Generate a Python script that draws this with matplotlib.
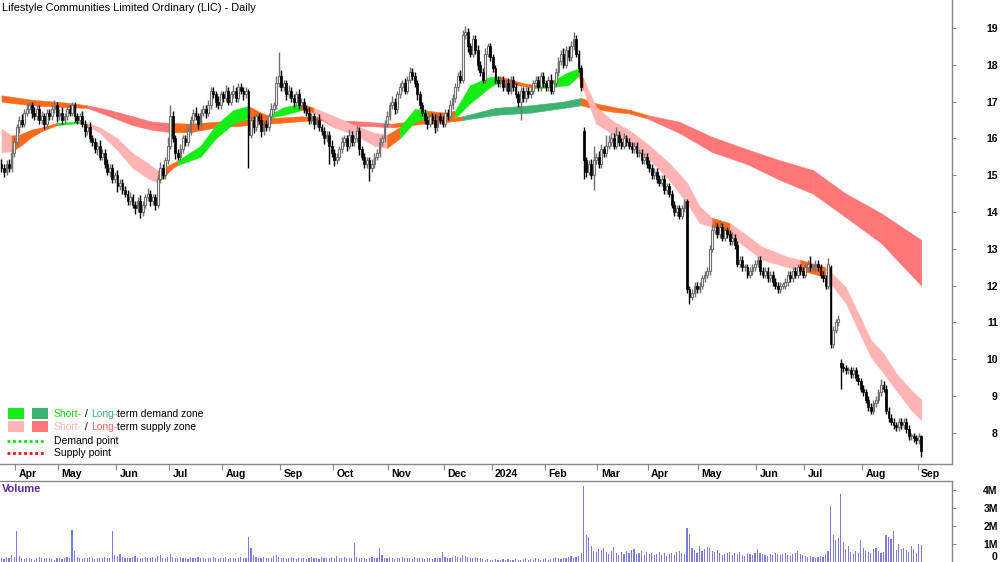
import numpy as np
import pandas as pd
import matplotlib
matplotlib.use("Agg")
import matplotlib.pyplot as plt
from matplotlib.transforms import blended_transform_factory
from matplotlib.patches import Rectangle

# ---------------- data ----------------
start_date = "2023-03-24"
end_date = "2024-09-03"
holidays = ["2023-04-07", "2023-04-10", "2023-04-25", "2023-06-12", "2023-12-25",
            "2023-12-26", "2024-01-01", "2024-01-26", "2024-03-29", "2024-04-01",
            "2024-04-25", "2024-06-10"]

closes = [15.2,15.1,15.3,15.2,15.6,15.9,16.3,16.5,16.4,16.7,
16.8,16.9,16.7,16.6,16.8,16.5,16.6,16.4,16.7,16.6,
16.8,16.9,16.6,16.7,16.5,16.6,16.8,16.7,16.9,16.6,
16.5,16.6,16.4,16.2,16.3,16.0,15.9,15.7,15.8,15.5,
15.6,15.3,15.1,15.2,14.9,15.0,14.7,14.8,14.6,14.5,
14.3,14.4,14.2,14.1,14.3,14.0,14.2,14.4,14.5,14.3,
14.4,14.2,14.9,15.2,15.0,15.4,15.8,16.6,16.0,15.6,
15.5,15.7,16.0,15.9,16.2,16.5,16.7,16.6,16.4,16.7,
16.8,16.7,16.9,17.3,17.2,17.0,16.9,17.2,17.1,17.3,
17.0,17.2,17.3,17.1,17.4,17.3,17.2,17.3,16.1,16.5,
16.3,16.6,16.5,16.2,16.4,16.3,16.6,16.8,16.9,17.5,
17.7,17.4,17.5,17.2,17.3,17.1,17.0,17.2,16.9,17.0,
16.8,16.7,16.5,16.6,16.4,16.5,16.3,16.2,16.0,16.1,
15.8,15.6,15.4,15.5,15.7,15.9,16.0,15.8,16.1,15.9,
16.0,16.2,15.7,15.5,15.3,15.4,15.2,15.3,15.5,15.6,
15.9,16.0,16.4,16.6,16.9,17.0,16.8,17.2,17.4,17.5,
17.3,17.6,17.8,17.7,17.5,17.2,16.9,16.7,16.5,16.4,
16.6,16.5,16.3,16.6,16.5,16.4,16.7,16.6,16.9,17.1,
17.4,17.7,17.6,18.8,18.9,18.5,18.3,18.7,18.4,18.0,
17.8,17.6,18.3,18.5,18.2,17.9,17.6,17.5,17.6,17.4,
17.5,17.3,17.6,17.4,17.2,17.0,17.3,17.1,17.3,17.2,
17.3,17.5,17.6,17.4,17.7,17.5,17.4,17.6,17.3,17.5,
17.8,18.1,18.3,18.0,18.4,18.2,18.5,18.7,18.3,17.9,
17.4,15.4,15.1,15.3,15.0,15.4,15.5,15.3,15.7,15.6,
15.8,15.9,16.0,15.8,16.1,15.9,15.8,16.0,15.9,15.8,
15.7,15.8,15.6,15.6,15.4,15.5,15.3,15.2,15.0,15.1,
14.9,14.8,14.9,14.6,14.7,14.5,14.2,14.0,14.1,13.9,
14.1,14.3,11.9,11.7,11.8,12.0,11.9,12.0,12.2,12.3,
12.4,13.0,13.5,13.6,13.4,13.6,13.3,13.5,13.4,13.2,
13.3,13.1,12.6,12.7,12.5,12.5,12.3,12.4,12.5,12.6,
12.7,12.4,12.3,12.4,12.2,12.3,12.1,12.0,11.9,12.0,
12.0,12.1,12.3,12.2,12.4,12.3,12.5,12.4,12.3,12.5,
12.6,12.5,12.5,12.6,12.5,12.3,12.2,12.0,12.6,10.4,
10.8,11.0,11.1,9.8,9.75,9.7,9.7,9.6,9.7,9.5,
9.4,9.2,9.1,8.9,8.7,8.6,8.8,8.9,9.1,9.3,
9.2,8.6,8.4,8.3,8.2,8.15,8.3,8.2,8.3,8.1,
7.9,7.9,7.85,7.8,7.9,7.5]

opens = [15.3,15.2,15.1,15.3,15.2,15.6,15.9,16.3,16.5,16.4,
16.7,16.8,16.9,16.7,16.6,16.8,16.5,16.6,16.4,16.7,
16.6,16.8,16.9,16.6,16.7,16.5,16.6,16.8,16.7,16.9,
16.6,16.5,16.6,16.4,16.2,16.3,16.0,15.9,15.7,15.8,
15.5,15.6,15.3,15.1,15.2,14.9,15.0,14.7,14.8,14.6,
14.5,14.3,14.4,14.2,14.1,14.3,14.0,14.2,14.4,14.5,
14.3,14.4,14.2,14.9,15.2,15.0,15.4,15.8,16.6,16.0,
15.6,15.5,15.7,16.0,15.9,16.2,16.5,16.7,16.6,16.4,
16.7,16.8,16.7,16.9,17.3,17.2,17.0,16.9,17.2,17.1,
17.3,17.0,17.2,17.3,17.1,17.4,17.3,17.2,17.3,16.1,
16.5,16.3,16.6,16.5,16.2,16.4,16.3,16.6,16.8,16.9,
17.5,17.7,17.4,17.5,17.2,17.3,17.1,17.0,17.2,16.9,
17.0,16.8,16.7,16.5,16.6,16.4,16.5,16.3,16.2,16.0,
16.1,15.8,15.6,15.4,15.5,15.7,15.9,16.0,15.8,16.1,
15.9,16.0,16.2,15.7,15.5,15.3,15.4,15.2,15.3,15.5,
15.6,15.9,16.0,16.4,16.6,16.9,17.0,16.8,17.2,17.4,
17.5,17.3,17.6,17.8,17.7,17.5,17.2,16.9,16.7,16.5,
16.4,16.6,16.5,16.3,16.6,16.5,16.4,16.7,16.6,16.9,
17.1,17.4,17.7,17.6,18.8,18.9,18.5,18.3,18.7,18.4,
18.0,17.8,17.6,18.3,18.5,18.2,17.9,17.6,17.5,17.6,
17.4,17.5,17.3,17.6,17.4,17.2,17.0,17.3,17.1,17.3,
17.2,17.3,17.5,17.6,17.4,17.7,17.5,17.4,17.6,17.3,
17.5,17.8,18.1,18.3,18.0,18.4,18.2,18.5,18.7,18.3,
17.9,16.2,15.4,15.1,15.3,15.0,15.4,15.5,15.3,15.7,
15.6,15.8,15.9,16.0,15.8,16.1,15.9,15.8,16.0,15.9,
15.8,15.7,15.8,15.6,15.6,15.4,15.5,15.3,15.2,15.0,
15.1,14.9,14.8,14.9,14.6,14.7,14.5,14.2,14.0,14.1,
13.9,14.1,14.3,11.9,11.7,11.8,12.0,11.9,12.0,12.2,
12.3,12.4,13.0,13.5,13.6,13.4,13.6,13.3,13.5,13.4,
13.2,13.3,13.1,12.6,12.7,12.5,12.5,12.3,12.4,12.5,
12.6,12.7,12.4,12.3,12.4,12.2,12.3,12.1,12.0,11.9,
12.0,12.0,12.1,12.3,12.2,12.4,12.3,12.5,12.4,12.3,
12.5,12.6,12.5,12.5,12.6,12.5,12.3,12.2,12.0,12.5,
10.4,10.8,11.0,9.9,9.8,9.75,9.7,9.7,9.6,9.7,
9.5,9.4,9.2,9.1,8.9,8.7,8.6,8.8,8.9,9.1,
9.3,9.2,8.6,8.4,8.3,8.2,8.15,8.3,8.2,8.3,
8.1,7.9,7.9,7.85,7.8,7.9]

wick_up = [0.15,0.1,0.1,0.15,0.1,0.15,0.1,0.1,0.15,0.1,
0.15,0.1,0.1,0.15,0.1,0.1,0.15,0.1,0.1,0.1,
0.1,0.15,0.1,0.1,0.15,0.1,0.1,0.1,0.1,0.1,
0.1,0.1,0.15,0.1,0.1,0.15,0.1,0.1,0.1,0.15,
0.1,0.1,0.15,0.1,0.1,0.1,0.15,0.1,0.1,0.1,
0.1,0.15,0.1,0.1,0.1,0.15,0.1,0.1,0.15,0.1,
0.1,0.1,0.1,0.15,0.1,0.1,0.25,0.3,0.15,0.1,
0.1,0.15,0.1,0.1,0.15,0.1,0.1,0.15,0.1,0.1,
0.1,0.1,0.15,0.1,0.1,0.1,0.15,0.1,0.1,0.15,
0.1,0.1,0.15,0.1,0.1,0.1,0.1,0.1,0.05,0.1,
0.1,0.1,0.1,0.15,0.1,0.1,0.1,0.15,0.1,0.2,
0.65,0.15,0.1,0.1,0.15,0.1,0.1,0.1,0.15,0.1,
0.1,0.1,0.15,0.1,0.1,0.1,0.15,0.1,0.1,0.1,
0.1,0.15,0.1,0.1,0.1,0.15,0.1,0.1,0.15,0.1,
0.1,0.15,0.1,0.1,0.1,0.1,0.1,0.15,0.1,0.1,
0.1,0.1,0.1,0.15,0.1,0.15,0.1,0.1,0.1,0.1,
0.15,0.1,0.15,0.1,0.1,0.1,0.1,0.1,0.1,0.1,
0.1,0.1,0.15,0.1,0.1,0.1,0.1,0.1,0.15,0.1,
0.1,0.1,0.15,0.15,0.15,0.1,0.1,0.1,0.1,0.15,
0.1,0.1,0.15,0.1,0.1,0.1,0.1,0.1,0.1,0.1,
0.1,0.15,0.1,0.1,0.1,0.1,0.1,0.1,0.1,0.1,
0.15,0.1,0.1,0.1,0.1,0.1,0.1,0.1,0.15,0.1,
0.1,0.1,0.1,0.15,0.1,0.1,0.15,0.2,0.1,0.1,
0.1,0.1,0.1,0.1,0.15,0.4,0.1,0.15,0.15,0.1,
0.3,0.2,0.15,0.15,0.2,0.1,0.1,0.15,0.1,0.1,
0.1,0.1,0.1,0.1,0.1,0.1,0.1,0.1,0.1,0.1,
0.1,0.1,0.1,0.1,0.1,0.1,0.1,0.1,0.1,0.1,
0.1,0.05,0.05,0.1,0.1,0.1,0.1,0.1,0.1,0.1,
0.1,0.1,0.15,0.15,0.1,0.15,0.1,0.1,0.1,0.1,
0.15,0.1,0.1,0.1,0.1,0.1,0.1,0.1,0.1,0.1,
0.1,0.1,0.1,0.1,0.1,0.1,0.1,0.1,0.1,0.1,
0.1,0.1,0.1,0.1,0.1,0.1,0.1,0.1,0.1,0.1,
0.1,0.2,0.1,0.1,0.1,0.1,0.1,0.1,0.15,0.05,
0.1,0.1,0.1,0.1,0.1,0.1,0.1,0.1,0.1,0.1,
0.1,0.1,0.1,0.1,0.1,0.1,0.1,0.1,0.1,0.15,
0.1,0.1,0.1,0.1,0.1,0.1,0.1,0.1,0.1,0.1,
0.1,0.1,0.1,0.1,0.1,0.05]

wick_dn = [0.1,0.15,0.1,0.1,0.1,0.1,0.1,0.15,0.1,0.1,
0.1,0.1,0.15,0.1,0.1,0.1,0.1,0.15,0.1,0.1,
0.1,0.1,0.15,0.1,0.1,0.1,0.1,0.1,0.1,0.15,
0.1,0.1,0.1,0.15,0.1,0.1,0.1,0.1,0.15,0.1,
0.1,0.1,0.1,0.15,0.1,0.1,0.15,0.1,0.1,0.1,
0.1,0.1,0.1,0.15,0.1,0.15,0.1,0.1,0.1,0.15,
0.1,0.15,0.1,0.1,0.1,0.1,0.1,0.1,0.1,0.15,
0.1,0.1,0.1,0.1,0.1,0.1,0.1,0.1,0.15,0.1,
0.1,0.15,0.1,0.1,0.1,0.15,0.1,0.1,0.1,0.1,
0.1,0.1,0.1,0.1,0.1,0.1,0.15,0.1,0.9,0.1,
0.15,0.1,0.1,0.15,0.1,0.1,0.1,0.1,0.1,0.1,
0.1,0.1,0.1,0.15,0.1,0.1,0.15,0.1,0.1,0.1,
0.1,0.1,0.1,0.1,0.15,0.1,0.1,0.1,0.15,0.1,
0.5,0.1,0.15,0.1,0.1,0.1,0.1,0.15,0.1,0.1,
0.1,0.1,0.15,0.1,0.1,0.1,0.35,0.1,0.1,0.1,
0.1,0.1,0.1,0.1,0.1,0.1,0.15,0.1,0.1,0.1,
0.1,0.1,0.1,0.1,0.1,0.15,0.1,0.1,0.1,0.15,
0.1,0.1,0.15,0.1,0.1,0.1,0.1,0.1,0.1,0.1,
0.1,0.1,0.1,0.1,0.1,0.15,0.1,0.1,0.1,0.15,
0.1,0.1,0.1,0.1,0.1,0.1,0.1,0.1,0.1,0.1,
0.1,0.1,0.1,0.1,0.1,0.15,0.5,0.1,0.1,0.1,
0.1,0.1,0.1,0.1,0.1,0.1,0.1,0.1,0.1,0.1,
0.1,0.1,0.1,0.1,0.1,0.1,0.1,0.1,0.1,0.1,
0.1,0.5,0.15,0.1,0.1,0.4,0.1,0.1,0.1,0.1,
0.1,0.1,0.1,0.1,0.1,0.1,0.1,0.1,0.1,0.1,
0.1,0.1,0.1,0.1,0.1,0.1,0.1,0.1,0.1,0.1,
0.1,0.1,0.1,0.1,0.1,0.1,0.1,0.1,0.1,0.1,
0.1,0.1,0.1,0.2,0.1,0.1,0.1,0.1,0.1,0.1,
0.1,0.1,0.1,0.1,0.1,0.1,0.1,0.1,0.1,0.1,
0.1,0.1,0.1,0.1,0.1,0.1,0.1,0.1,0.1,0.1,
0.1,0.1,0.1,0.1,0.1,0.1,0.1,0.1,0.1,0.1,
0.1,0.1,0.1,0.1,0.1,0.1,0.1,0.1,0.1,0.1,
0.1,0.1,0.1,0.1,0.1,0.1,0.1,0.1,0.1,0.1,
0.1,0.1,0.1,0.6,0.1,0.1,0.1,0.1,0.1,0.1,
0.1,0.1,0.1,0.1,0.1,0.1,0.1,0.1,0.1,0.1,
0.1,0.1,0.1,0.1,0.1,0.1,0.1,0.1,0.1,0.1,
0.1,0.1,0.1,0.1,0.1,0.15]

volume_m = [0.2,0.15,0.3,0.25,0.4,0.3,1.75,0.35,0.2,0.15,
0.2,0.25,0.15,0.1,0.2,0.3,0.2,0.15,0.25,0.2,
0.15,0.1,0.2,0.25,0.15,0.2,0.3,0.2,1.8,0.6,
0.3,0.2,0.15,0.2,0.25,0.3,0.2,0.15,0.25,0.2,
0.2,0.3,0.25,0.2,1.7,0.4,0.35,0.45,0.3,0.2,
0.25,0.2,0.3,0.35,0.2,0.15,0.25,0.3,0.2,0.2,
0.3,0.25,0.35,0.4,0.2,0.25,0.3,0.45,0.3,0.2,
0.2,0.3,0.25,0.2,0.15,0.3,0.25,0.2,0.3,0.25,
0.2,0.15,0.25,0.2,0.3,0.2,0.15,0.25,0.2,0.3,
0.15,0.2,0.25,0.15,0.2,0.3,0.2,0.25,1.4,0.8,
0.4,0.3,0.25,0.2,0.3,0.2,0.25,0.2,0.35,0.4,
0.3,0.25,0.2,0.15,0.2,0.3,0.2,0.15,0.2,0.25,
0.2,0.15,0.25,0.3,0.2,0.2,0.15,0.3,0.25,0.2,
0.25,0.3,0.2,0.35,0.25,0.2,0.3,0.2,0.25,0.2,
1.05,0.3,0.2,0.25,0.2,0.15,0.2,0.3,0.25,0.2,
0.8,0.4,0.25,0.2,0.3,0.2,0.15,0.25,0.2,0.3,
0.2,0.25,0.2,0.15,0.3,0.2,0.25,0.2,0.15,0.2,
0.2,0.15,0.25,0.2,0.2,0.55,0.3,0.2,0.25,0.3,
0.35,0.3,0.25,0.4,0.35,0.3,0.25,0.2,0.3,0.25,
0.2,0.15,0.1,0.15,0.1,0.1,0.15,0.1,0.1,0.15,
0.1,0.15,0.1,0.1,0.15,0.1,0.1,0.15,0.2,0.1,
0.15,0.1,0.2,0.15,0.1,0.15,0.2,0.1,0.15,0.2,
0.3,0.2,0.15,0.25,0.2,0.3,0.35,0.25,0.3,0.35,
0.5,4.2,1.5,1.4,0.9,0.6,0.55,0.7,0.65,0.8,
0.55,0.45,0.6,0.85,0.5,0.4,0.55,0.45,0.6,0.5,
0.65,0.7,0.45,0.5,0.6,0.4,0.55,0.45,0.5,0.4,
0.45,0.55,0.4,0.5,0.35,0.45,0.5,0.4,0.55,0.6,
0.5,0.45,1.9,1.55,0.8,0.65,0.5,0.9,0.6,0.7,
0.85,0.8,0.6,0.55,0.65,0.5,0.4,0.45,0.5,0.55,
0.4,0.5,0.45,0.55,0.4,0.35,0.5,0.45,0.4,0.5,
0.7,0.5,0.45,0.4,0.35,0.45,0.4,0.5,0.45,0.4,
0.45,0.5,0.4,0.35,0.45,0.5,0.6,0.45,0.4,0.35,
0.3,0.35,0.3,0.25,0.3,0.35,0.3,0.45,0.6,3.1,
1.5,1.25,1.35,3.8,1.1,0.7,0.9,0.55,0.45,0.6,
0.5,1.2,0.8,0.6,0.55,0.5,0.7,0.8,0.6,0.5,
0.55,1.5,1.4,1.3,1.75,0.65,1.0,0.7,0.8,0.65,
0.55,0.9,0.75,0.5,1.0,0.95]

# short-term zone: sample day index, upper edge, lower edge, colour code of following segment
st_idx = [0,4,7,12,16,22,32,39,46,52,58,62,68,70,79,85,92,98,103,106,112,119,124,132,140,148,
          153,158,164,169,176,180,186,194,198,207,212,216,225,229,231,236,243,249,256,265,272,
          277,282,289,293,302,312,317,327,335,340,345,350,355,361,365]
st_hi = [16.26,16.08,16.1,16.24,16.3,16.42,16.47,16.3,16.0,15.6,15.33,15.12,15.33,15.4,15.8,16.36,
         16.77,16.88,16.7,16.62,16.85,16.94,16.83,16.6,16.36,16.15,16.1,16.3,16.8,16.75,16.7,16.75,
         17.45,17.67,17.68,17.5,17.45,17.48,17.8,17.9,17.6,16.85,16.45,16.23,15.87,15.33,14.8,
         14.15,13.84,13.7,13.5,13.05,12.78,12.7,12.5,11.96,11.25,10.52,10.16,9.62,9.16,8.9]
st_lo = [15.62,15.66,15.77,16.04,16.2,16.36,16.43,16.15,15.68,15.2,14.92,14.8,15.2,15.28,15.5,16.0,
         16.4,16.55,16.5,16.56,16.64,16.77,16.7,16.3,16.1,15.8,15.74,16.0,16.45,16.55,16.5,16.55,
         16.96,17.4,17.55,17.42,17.37,17.38,17.45,17.7,17.3,16.4,16.1,15.87,15.5,14.87,14.24,
         13.7,13.6,13.35,13.16,12.7,12.5,12.42,12.23,11.53,10.79,10.06,9.62,9.16,8.62,8.35]
st_col = ["P","O","O","O","O","G","P","P","P","P","P","O","O","G","G","G","G","O","O","G","G",
          "O","P","P","P","P","O","G","G","O","O","G","G","G","O","O","G","G","G","O","P","P",
          "P","P","P","P","P","P","O","P","P","P","P","O","P","P","P","P","P","P","P","P"]

# long-term zone
lt_idx = [0,12,26,34,43,52,60,67,75,85,94,106,119,127,132,145,155,167,177,183,196,210,223,230,
          236,243,249,256,269,282,296,309,322,335,349,365]
lt_hi = [17.17,17.05,16.97,16.9,16.77,16.6,16.45,16.42,16.4,16.45,16.5,16.55,16.6,16.55,16.5,
         16.45,16.4,16.5,16.55,16.6,16.83,16.9,17.0,17.1,16.95,16.85,16.78,16.64,16.45,16.04,
         15.7,15.4,15.14,14.5,13.97,13.24]
lt_lo = [17.0,16.9,16.85,16.83,16.6,16.36,16.23,16.17,16.17,16.3,16.34,16.4,16.47,16.5,16.3,
         16.34,16.3,16.4,16.45,16.5,16.64,16.7,16.83,16.9,16.8,16.72,16.68,16.55,16.15,15.63,
         15.3,14.87,14.5,13.86,13.16,12.0]
lt_col = ["O","O","O","R","R","R","R","O","O","O","O","O","O","R","R","R","O","O","O","g","g",
          "g","g","O","O","O","O","R","R","R","R","R","R","R","R","R"]

zone_colors = {"G": "#14ee14", "g": "#3cb371", "P": "#ffb4b4", "R": "#ff7676", "O": "#ff6a1c"}

title = "Lifestyle Communities Limited Ordinary (LIC) - Daily"

# ---------------- figure ----------------
W, H = 1000, 562
FONT = "Liberation Sans"
plt.rcParams["font.family"] = [FONT, "DejaVu Sans"]
fig = plt.figure(figsize=(W / 100, H / 100), dpi=100)

def fy(py):
    return 1 - py / H

price_bottom_px = 464
ax = fig.add_axes([0, fy(price_bottom_px), 952 / W, price_bottom_px / H])
axv = fig.add_axes([0, 0, 952 / W, (H - 481) / H])

dates = pd.bdate_range(start_date, end_date)
dates = dates.drop(pd.to_datetime(holidays), errors="ignore")
n = len(closes)
dates = dates[:n]

x = np.arange(n)
o = np.array(opens[:n], float)
c = np.array(closes, float)
hi = np.maximum(o, c) + np.array(wick_up[:n])
lo = np.minimum(o, c) - np.array(wick_dn[:n])

def draw_zone(idx, top, bot, cols, z):
    for k in range(len(idx) - 1):
        col = zone_colors[cols[k]]
        ax.fill_between([idx[k], idx[k + 1]], [bot[k], bot[k + 1]], [top[k], top[k + 1]],
                        color=col, lw=0.4, edgecolor=col, zorder=z)

draw_zone(lt_idx, lt_hi, lt_lo, lt_col, 1)
draw_zone(st_idx, st_hi, st_lo, st_col, 2)

# candles
up = c >= o
body_b = np.minimum(o, c)
body_h = np.maximum(np.abs(c - o), 0.035)
ax.vlines(x[up], lo[up], hi[up], color="#707070", lw=1.0, zorder=3)
ax.vlines(x[~up], lo[~up], hi[~up], color="black", lw=1.0, zorder=3)
ax.bar(x[up], body_h[up], bottom=body_b[up], width=0.72, color="white",
       edgecolor="#707070", lw=0.8, zorder=4)
ax.bar(x[~up], body_h[~up], bottom=body_b[~up], width=0.72, color="black",
       edgecolor="black", lw=0.5, zorder=4)

px_per_day = 2.52
ax.set_xlim(-1.5 / px_per_day, (952 - 1.5) / px_per_day)
ax.set_ylim(19 - (price_bottom_px - 28) / 36.8, 19 + 28 / 36.8)
axv.set_xlim(ax.get_xlim())

axv.bar(x, volume_m, width=0.45, color="#7b7bdc", lw=0)
axv.set_ylim(0, (H - 481) / 18.0)

spine_col = "#888888"
for a in (ax, axv):
    for s in a.spines.values():
        s.set_color(spine_col)
        s.set_linewidth(1.0)
ax.spines["top"].set_visible(False)
ax.spines["left"].set_visible(False)
axv.spines["left"].set_visible(False)
axv.spines["bottom"].set_visible(False)

ax.yaxis.tick_right()
ax.set_yticks(range(8, 20))
ax.set_yticklabels([str(v) for v in range(8, 20)])
ax.tick_params(axis="y", direction="out", length=3, width=0.8, color=spine_col,
               pad=30, labelsize=7.5)
for lab in ax.get_yticklabels():
    lab.set_horizontalalignment("right")
    lab.set_fontweight("bold")

axv.yaxis.tick_right()
axv.set_yticks([0, 1, 2, 3, 4])
axv.set_yticklabels(["0", "1M", "2M", "3M", "4M"])
axv.tick_params(axis="y", direction="out", length=3, width=0.8, color=spine_col,
                pad=30, labelsize=7.5)
for k, lab in enumerate(axv.get_yticklabels()):
    lab.set_horizontalalignment("right")
    lab.set_fontweight("bold")
    if k == 0:
        lab.set_verticalalignment("bottom")
axv.set_xticks([])

# month ticks / labels
s = pd.Series(np.arange(n), index=dates)
firsts = s.groupby([dates.year, dates.month]).first()
tick_pos, tick_lab = [], []
for (yy, mm), i0 in firsts.items():
    if i0 == 0:
        continue
    tick_pos.append(i0 - 0.5)
    tick_lab.append(str(yy) if mm == 1 else pd.Timestamp(yy, mm, 1).strftime("%b"))
ax.set_xticks(tick_pos)
ax.set_xticklabels([])
ax.tick_params(axis="x", direction="out", length=4, width=0.8, color=spine_col)
trans = blended_transform_factory(ax.transData, ax.transAxes)
for p, lab in zip(tick_pos, tick_lab):
    ax.text(p + 1.3, -10 / price_bottom_px, lab, transform=trans, ha="left", va="center",
            fontsize=7.6, fontweight="bold", color="black")

fig.text(2 / W, fy(8), title, ha="left", va="center", fontsize=7.9, color="black")
fig.text(2 / W, fy(489), "Volume", ha="left", va="center", fontsize=8,
         fontweight="bold", color="#5a2ca0")

# legend
fig.canvas.draw()
renderer = fig.canvas.get_renderer()
LFS = 7.5

def multitext(x0, y0, parts):
    xx = x0
    for txt, col in parts:
        t = fig.text(xx / W, fy(y0), txt, ha="left", va="center", fontsize=LFS, color=col)
        xx += t.get_window_extent(renderer).width

def box(x0, y0, w, h, col):
    fig.patches.append(Rectangle((x0 / W, fy(y0 + h)), w / W, h / H, transform=fig.transFigure,
                                 facecolor=col, edgecolor="none", zorder=5))

box(8, 408, 16, 11, zone_colors["G"])
box(32, 408, 16, 11, zone_colors["g"])
box(8, 421, 16, 11, zone_colors["P"])
box(32, 421, 16, 11, zone_colors["R"])
multitext(54, 414, [("Short-", "#14dd14"), (" / ", "black"), ("Long-", "#3cb371"),
                    ("term demand zone", "black")])
multitext(54, 427, [("Short-", "#ffb4b4"), (" / ", "black"), ("Long-", "#ff6060"),
                    ("term supply zone", "black")])
fig.add_artist(plt.Line2D([7 / W, 45 / W], [fy(441), fy(441)], color="#11dd11", lw=2,
                          ls=(0, (1, 1)), transform=fig.transFigure))
fig.add_artist(plt.Line2D([7 / W, 45 / W], [fy(453), fy(453)], color="#ee1111", lw=2,
                          ls=(0, (1, 1)), transform=fig.transFigure))
fig.text(54 / W, fy(441), "Demand point", ha="left", va="center", fontsize=LFS, color="black")
fig.text(54 / W, fy(453), "Supply point", ha="left", va="center", fontsize=LFS, color="black")

fig.savefig("out.png", dpi=100)
